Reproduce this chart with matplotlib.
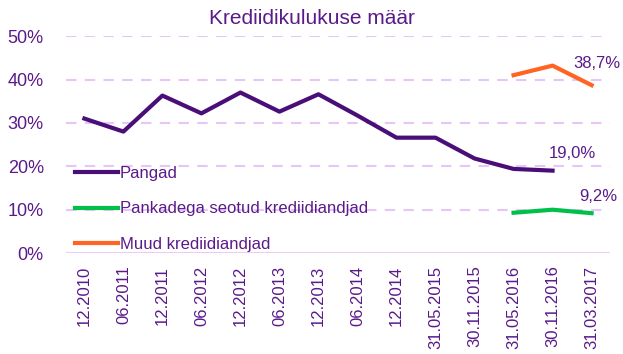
import matplotlib
matplotlib.use("Agg")
import matplotlib.pyplot as plt

kuupaevad = ["12.2010", "06.2011", "12.2011", "06.2012", "12.2012", "06.2013",
             "12.2013", "06.2014", "12.2014", "31.05.2015", "30.11.2015",
             "31.05.2016", "30.11.2016", "31.03.2017"]
pangad = [31.0, 28.0, 36.3, 32.2, 37.0, 32.6, 36.6, 31.7, 26.6, 26.6, 21.8, 19.4, 19.0, None]
seotud = [None] * 11 + [9.3, 10.0, 9.2]
muud = [None] * 11 + [41.0, 43.2, 38.7]

lilla = "#4a0e78"
tekst = "#5a1a8a"
roheline = "#00bf4a"
oranz = "#ff6422"
ruudustik = "#e6c6f7"
kiri = "Liberation Sans"

fig = plt.figure(figsize=(6.23, 3.54), dpi=100)
ax = fig.add_axes([0.106, 0.285, 0.873, 0.613])

x = list(range(len(kuupaevad)))
nan = float("nan")
ax.plot(x, [v if v is not None else nan for v in pangad], color=lilla, lw=3, label="Pangad")
ax.plot(x, [v if v is not None else nan for v in seotud], color=roheline, lw=3,
        label="Pankadega seotud krediidiandjad")
ax.plot(x, [v if v is not None else nan for v in muud], color=oranz, lw=3,
        label="Muud krediidiandjad")

ax.set_xlim(-0.47, 13.47)
ax.set_ylim(0, 50)
ax.set_yticks([0, 10, 20, 30, 40, 50])
ax.set_yticklabels([f"{t}%" for t in range(0, 60, 10)], fontsize=13, color=tekst, family=kiri)
ax.set_xticks(x)
ax.set_xticklabels(kuupaevad, rotation=90, fontsize=12, color=tekst, family=kiri)
ax.tick_params(length=0, pad=9)
ax.tick_params(axis="y", pad=16)

for y in [10, 20, 30, 40, 50]:
    ax.axhline(y, color=ruudustik, lw=1.5, ls=(0, (5, 4)), zorder=0)
ax.axhline(0, color=ruudustik, lw=2, zorder=0)
for s in ax.spines.values():
    s.set_visible(False)

ax.annotate("38,7%", (13, 38.7), xytext=(4, 12), textcoords="offset points", ha="center",
            fontsize=12, color=tekst, family=kiri)
ax.annotate("19,0%", (12, 19.0), xytext=(14, 9), textcoords="offset points", ha="center",
            fontsize=12, color=tekst, family=kiri)
ax.annotate("9,2%", (13, 9.2), xytext=(5, 9), textcoords="offset points", ha="center",
            fontsize=12, color=tekst, family=kiri)

leg = ax.legend(loc="lower left", bbox_to_anchor=(-0.012, -0.065), frameon=False,
                handlelength=2.6, handletextpad=0.1, labelspacing=1.25,
                prop={"family": kiri, "size": 12})
for t in leg.get_texts():
    t.set_color(tekst)

fig.text(0.5, 0.948, "Krediidikulukuse määr", ha="center", va="center", fontsize=15,
         color=tekst, family=kiri)

fig.savefig("out.png", dpi=100)
